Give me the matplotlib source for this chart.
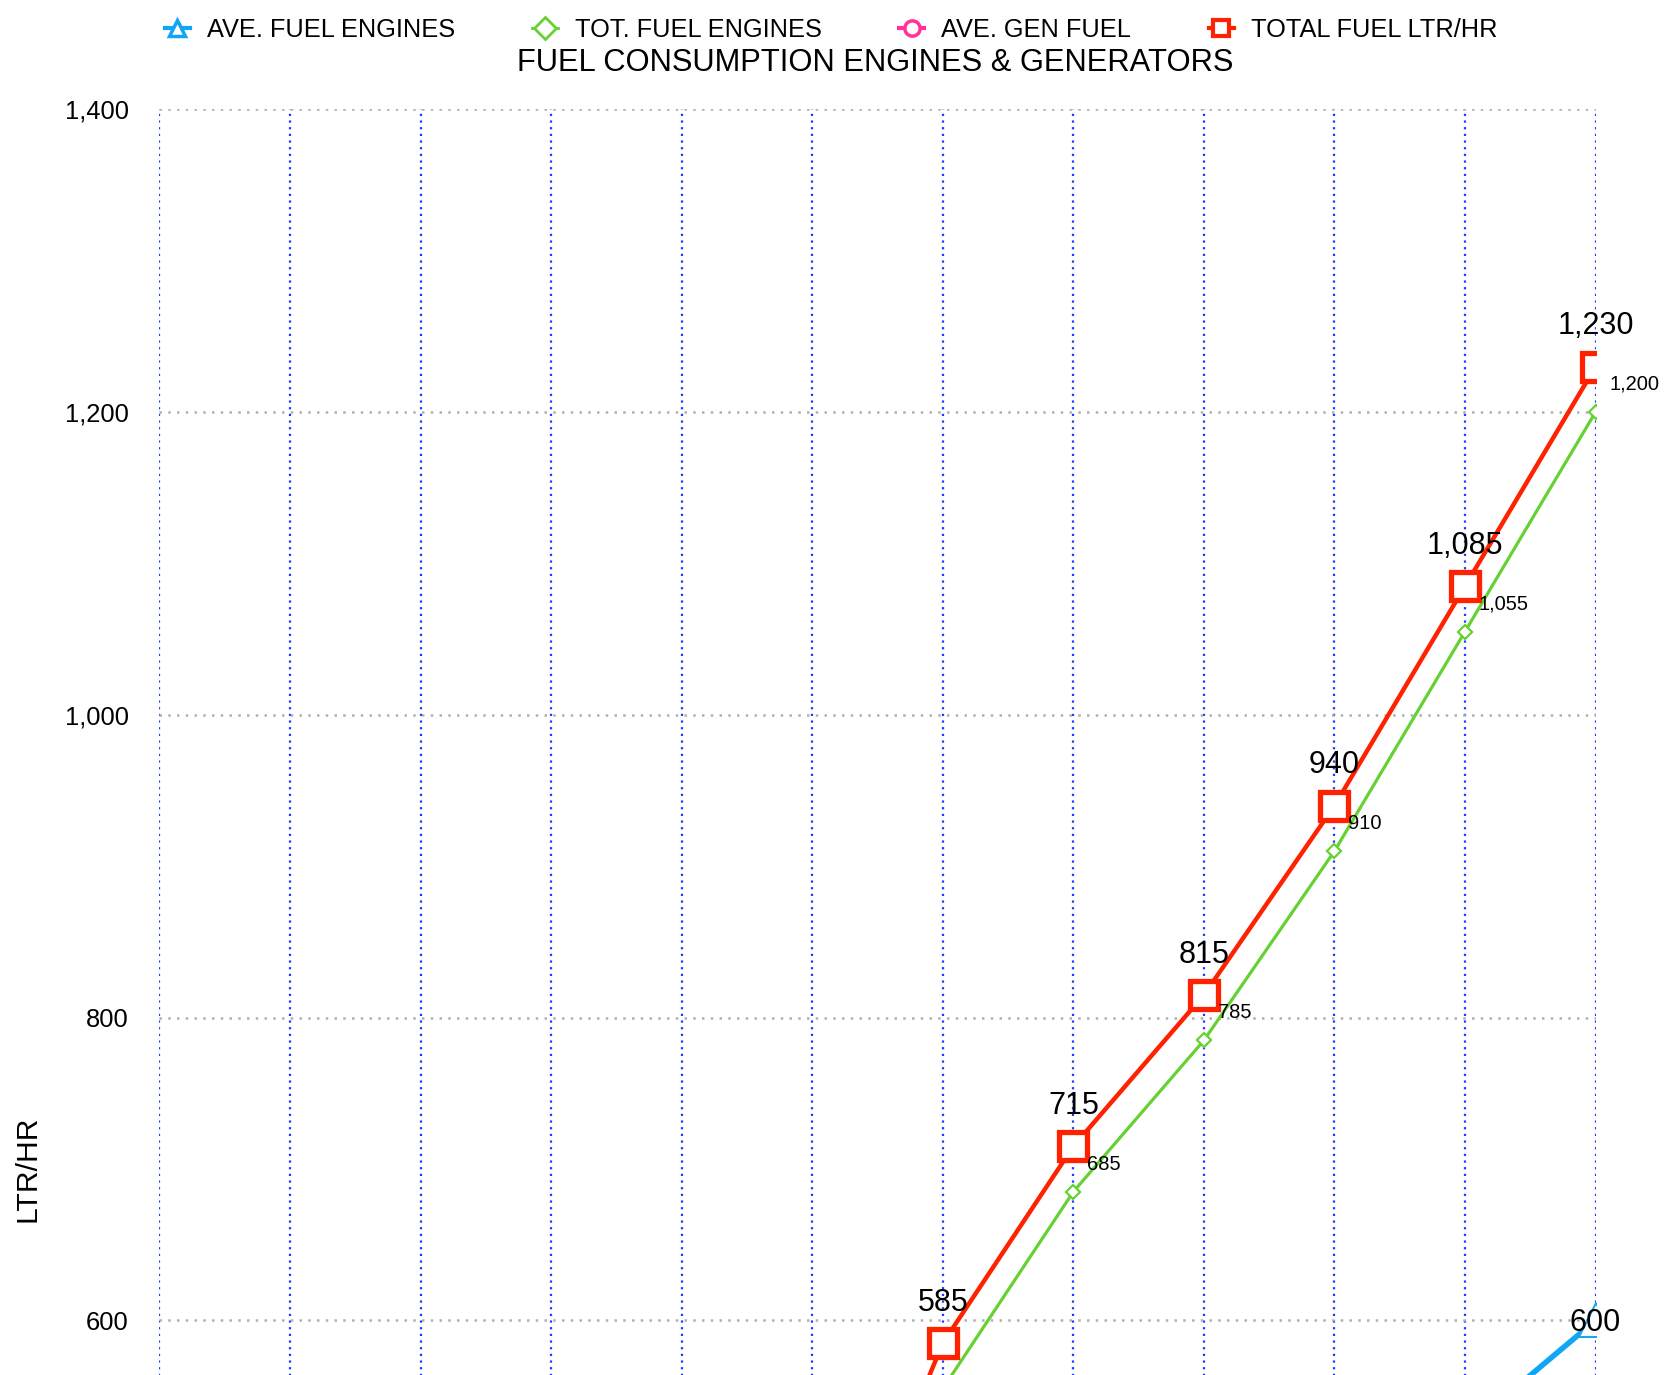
import matplotlib

matplotlib.use("Agg")
import matplotlib.pyplot as plt
from matplotlib.lines import Line2D

# categories along x (labels sit below the visible crop)
categories = list(range(1, 13))

# LTR/HR per series; the first points fall below the visible window
tot_fuel_engines = [40, 70, 110, 170, 250, 347, 555, 685, 785, 910, 1055, 1200]
ave_fuel_engines = [20, 35, 55, 85, 125, 173.5, 277.5, 342.5, 392.5, 455, 527.5, 600]
ave_gen_fuel = [15, 15, 15, 15, 15, 15, 15, 15, 15, 15, 15, 15]
total_fuel = [70, 100, 140, 200, 280, 377, 585, 715, 815, 940, 1085, 1230]

BLUE = "#10A5F5"
GREEN = "#66D133"
PINK = "#FF3399"
RED = "#FF2200"

# lowest value still inside the cropped window
VISIBLE_MIN = 564

plt.rcParams["font.family"] = ["Liberation Sans", "DejaVu Sans"]

fig = plt.figure(figsize=(16.66, 13.75), dpi=100)
# the original chart runs 0..1400 and is cropped at the bottom
ax = fig.add_axes([0.0957, -0.621, 0.862, 1.5415])

x = list(range(len(categories)))

ax.plot(x, ave_gen_fuel, color=PINK, lw=3, marker="o", ms=10,
        mfc="white", mec=PINK, mew=2, zorder=3)
ax.plot(x, ave_fuel_engines, color=BLUE, lw=4, marker="^", ms=25,
        mfc="white", mec=BLUE, mew=1.4, zorder=3)
ax.plot(x, tot_fuel_engines, color=GREEN, lw=2.3, marker="D", ms=7,
        mfc="white", mec=GREEN, mew=1.6, zorder=4)
ax.plot(x, total_fuel, color=RED, lw=3.2, marker="s", ms=20,
        mfc="white", mec=RED, mew=3.8, zorder=5)


def label(values, dx, dy, ha, size):
    for xi, v in zip(x, values):
        if v < VISIBLE_MIN:
            continue
        ax.annotate(f"{v:,.0f}", (xi, v), xytext=(dx, dy), textcoords="offset points",
                    ha=ha, va="center", fontsize=size, zorder=6)


label(total_fuel, 0, 29, "center", 22)
label(tot_fuel_engines, 10, 20, "left", 14.5)
label(ave_fuel_engines, 0, -2, "center", 22)
label(ave_gen_fuel, 0, 20, "center", 14.5)

ax.set_xlim(0, len(categories) - 1)
ax.set_ylim(0, 1400)
ax.set_xticks(x, [""] * len(x))
ax.set_yticks(range(600, 1401, 200))
ax.yaxis.set_major_formatter(matplotlib.ticker.FuncFormatter(lambda v, _: f"{v:,.0f}"))
ax.tick_params(axis="both", length=0, labelsize=18.4, pad=22)
for side in ax.spines.values():
    side.set_visible(False)
ax.xaxis.grid(True, color="#1A3CFF", linestyle=(0, (1, 2.0)), lw=1.6)
ax.yaxis.grid(True, color="#B0B0B0", linestyle=(0, (1, 2.5)), lw=1.8)
ax.set_axisbelow(True)
ax.set_ylabel("LTR/HR", fontsize=21.6)
ax.yaxis.set_label_coords(-0.082, 0.5)

fig.text(0.5255, 0.954, "FUEL CONSUMPTION ENGINES & GENERATORS",
         ha="center", va="center", fontsize=22.2)

handles = [
    Line2D([], [], color=BLUE, lw=3, marker="^", ms=11, mfc="white", mec=BLUE, mew=2.5),
    Line2D([], [], color=GREEN, lw=2, marker="D", ms=11, mfc="white", mec=GREEN, mew=2),
    Line2D([], [], color=PINK, lw=3, marker="o", ms=11, mfc="white", mec=PINK, mew=2.5),
    Line2D([], [], color=RED, lw=3, marker="s", ms=11, mfc="white", mec=RED, mew=3),
]
labels = ["AVE. FUEL ENGINES", "TOT. FUEL ENGINES", "AVE. GEN FUEL", "TOTAL FUEL LTR/HR"]
fig.legend(handles, labels, loc="center", bbox_to_anchor=(0.4988, 0.978), ncol=4,
           frameon=False, fontsize=18.3, handlelength=1.0, handletextpad=0.67,
           columnspacing=3.04, borderpad=0)

fig.savefig("out.png", dpi=100)
